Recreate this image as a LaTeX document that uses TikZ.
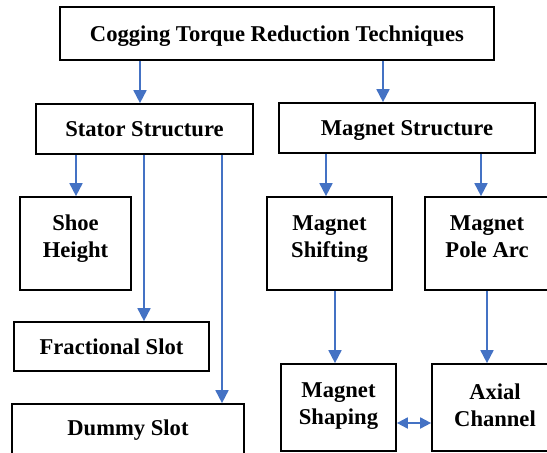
\documentclass[tikz,border=0pt]{standalone}
\usepackage{fontspec}
\setmainfont{Liberation Serif}
\usetikzlibrary{arrows.meta}
\definecolor{arrowblue}{HTML}{4472C4}
\begin{document}
\begin{tikzpicture}[x=1pt,y=-1pt,
  box/.style={draw=black, line width=1.7pt, rectangle, inner sep=0pt, text height=15pt, text depth=0pt, font=\bfseries\fontsize{22.6}{27}\selectfont},
  lbl/.style={align=center, inner sep=0pt, font=\bfseries\fontsize{22.6}{27}\selectfont},
  arr/.style={draw=arrowblue, line width=1.8pt, -{Triangle[width=13pt,length=13pt]}},
  dbl/.style={draw=arrowblue, line width=1.8pt, {Triangle[width=11pt,length=11pt]}-{Triangle[width=11pt,length=11pt]}}
]
\useasboundingbox (0,0) rectangle (547,453);
\clip (0,0) rectangle (547,453);

\node[box, minimum width=434pt, minimum height=53pt] (top) at (277,33.5) {Cogging Torque Reduction Techniques};
\node[box, minimum width=217pt, minimum height=50pt] (stator) at (144.5,129) {Stator Structure};
\node[box, minimum width=256pt, minimum height=50pt] (magnet) at (407,128) {Magnet Structure};

\node[box, minimum width=111pt, minimum height=93pt] (shoe) at (75.5,243.5) {};
\node[box, minimum width=125pt, minimum height=93pt] (shift) at (329.5,243.5) {};
\node[box, minimum width=124pt, minimum height=93pt] (pole) at (487,243.5) {};
\node[lbl] (shoeT) at (75.5,239) {Shoe\\Height};
\node[lbl] (shiftT) at (329.5,239) {Magnet\\Shifting};
\node[lbl] (poleT) at (487,237) {Magnet\\Pole Arc};

\node[box, minimum width=195pt, minimum height=49pt] (frac) at (111.5,346.5) {Fractional Slot};
\node[box, minimum width=232pt, minimum height=52pt] (dummy) at (128,430) {};
\node[lbl] (dummyT) at (128,430) {Dummy Slot};

\node[box, minimum width=115pt, minimum height=87pt] (shape) at (338.5,407.5) {};
\node[box, minimum width=126pt, minimum height=87pt] (axial) at (495,407.5) {};
\node[lbl] (shapeT) at (338.5,406) {Magnet\\Shaping};
\node[lbl] (axialT) at (495,405) {Axial\\Channel};

\draw[arr] (top.south -| 140,0) -- (stator.north -| 140,0);
\draw[arr] (top.south -| 383,0) -- (magnet.north -| 383,0);
\draw[arr] (stator.south -| 76,0) -- (shoe.north -| 76,0);
\draw[arr] (stator.south -| 144,0) -- (frac.north -| 144,0);
\draw[arr] (stator.south -| 222,0) -- (dummy.north -| 222,0);
\draw[arr] (magnet.south -| 326,0) -- (shift.north -| 326,0);
\draw[arr] (magnet.south -| 481,0) -- (pole.north -| 481,0);
\draw[arr] (shift.south -| 335,0) -- (shape.north -| 335,0);
\draw[arr] (pole.south -| 487,0) -- (axial.north -| 487,0);
\draw[dbl] (shape.east |- 0,423) -- (axial.west |- 0,423);
\end{tikzpicture}
\end{document}
